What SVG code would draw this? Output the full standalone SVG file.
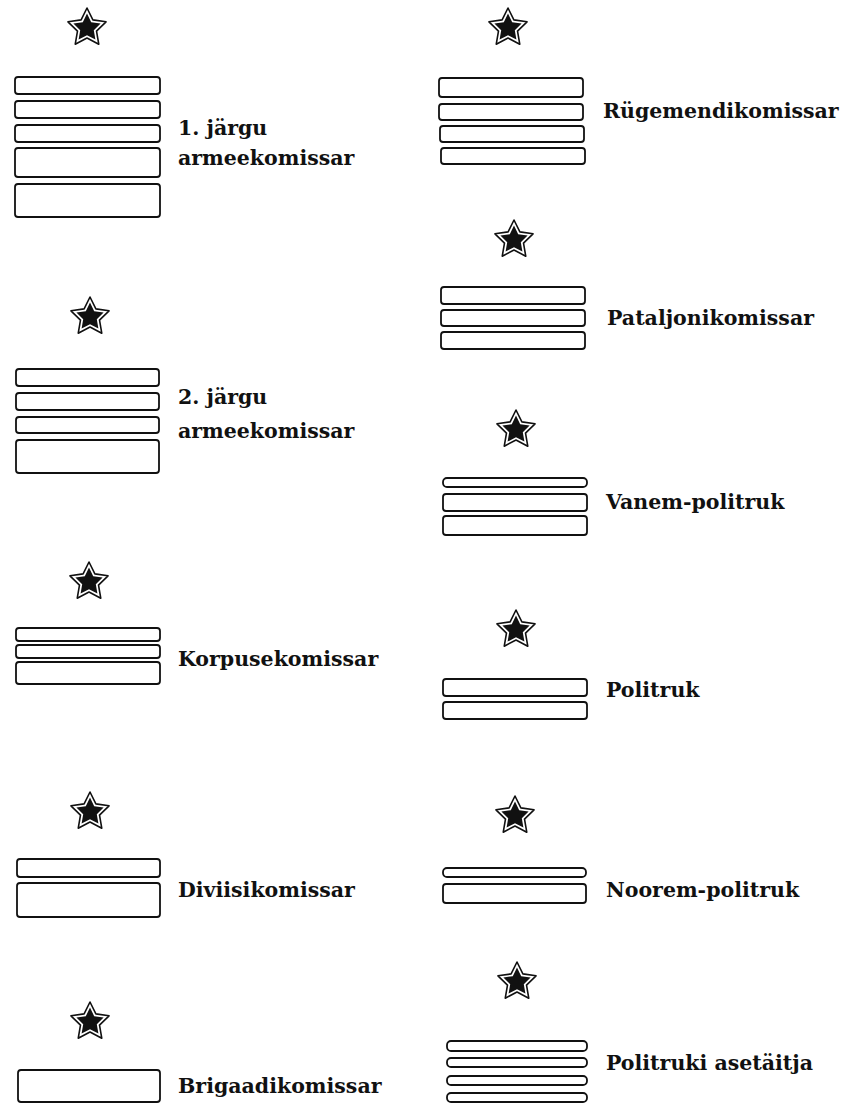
<svg xmlns="http://www.w3.org/2000/svg" width="850" height="1103" viewBox="0 0 850 1103">
<style>
.bar{fill:#fff;stroke:#111;stroke-width:1.8}
.lbl{font-family:"DejaVu Serif","Liberation Serif",serif;font-weight:bold;font-size:20.5px;fill:#111}
</style>
<defs>
<g id="star">
<polygon points="0,-20 5.88,-8.09 19.02,-6.18 9.51,3.09 11.76,16.18 0,10 -11.76,16.18 -9.51,3.09 -19.02,-6.18 -5.88,-8.09" fill="#fff" stroke="#111" stroke-width="1.6" stroke-linejoin="round"/>
<polygon points="0,-14.5 4.2,-5.8 13.6,-4.5 6.8,2.2 8.4,11.6 0,7.2 -8.4,11.6 -6.8,2.2 -13.6,-4.5 -4.2,-5.8" fill="#111"/>
</g>
</defs>
<rect width="850" height="1103" fill="#fff"/>

<g id="armeekomissar1">
<use href="#star" x="87" y="28"/>
<rect class="bar" x="15" y="77" width="145" height="17" rx="3"/>
<rect class="bar" x="15" y="101" width="145" height="17" rx="3"/>
<rect class="bar" x="15" y="125" width="145" height="17" rx="3"/>
<rect class="bar" x="15" y="148" width="145" height="29" rx="3"/>
<rect class="bar" x="15" y="184" width="145" height="33" rx="3"/>
<text class="lbl" x="178" y="135">1. järgu</text>
<text class="lbl" x="178" y="165">armeekomissar</text>
</g>

<g id="armeekomissar2">
<use href="#star" x="90" y="317"/>
<rect class="bar" x="16" y="369" width="143" height="17" rx="3"/>
<rect class="bar" x="16" y="393" width="143" height="17" rx="3"/>
<rect class="bar" x="16" y="417" width="143" height="16" rx="3"/>
<rect class="bar" x="16" y="440" width="143" height="33" rx="3"/>
<text class="lbl" x="178" y="404">2. järgu</text>
<text class="lbl" x="178" y="438">armeekomissar</text>
</g>

<g id="korpusekomissar">
<use href="#star" x="89" y="582"/>
<rect class="bar" x="16" y="628" width="144" height="13" rx="3"/>
<rect class="bar" x="16" y="645" width="144" height="13" rx="3"/>
<rect class="bar" x="16" y="662" width="144" height="22" rx="3"/>
<text class="lbl" x="178" y="666">Korpusekomissar</text>
</g>

<g id="diviisikomissar">
<use href="#star" x="90" y="812"/>
<rect class="bar" x="17" y="859" width="143" height="18" rx="3"/>
<rect class="bar" x="17" y="883" width="143" height="34" rx="3"/>
<text class="lbl" x="178" y="897">Diviisikomissar</text>
</g>

<g id="brigaadikomissar">
<use href="#star" x="90" y="1022"/>
<rect class="bar" x="18" y="1070" width="142" height="32" rx="3"/>
<text class="lbl" x="178" y="1093">Brigaadikomissar</text>
</g>

<g id="rugemendikomissar">
<use href="#star" x="508" y="28"/>
<rect class="bar" x="439" y="78" width="144" height="19" rx="3"/>
<rect class="bar" x="439" y="104" width="144" height="16" rx="3"/>
<rect class="bar" x="440" y="126" width="144" height="16" rx="3"/>
<rect class="bar" x="441" y="148" width="144" height="16" rx="3"/>
<text class="lbl" x="603" y="118">Rügemendikomissar</text>
</g>

<g id="pataljonikomissar">
<use href="#star" x="514" y="240"/>
<rect class="bar" x="441" y="287" width="144" height="17" rx="3"/>
<rect class="bar" x="441" y="310" width="144" height="16" rx="3"/>
<rect class="bar" x="441" y="332" width="144" height="17" rx="3"/>
<text class="lbl" x="607" y="325">Pataljonikomissar</text>
</g>

<g id="vanem-politruk">
<use href="#star" x="516" y="430"/>
<rect class="bar" x="443" y="478" width="144" height="9" rx="4"/>
<rect class="bar" x="443" y="494" width="144" height="17" rx="3"/>
<rect class="bar" x="443" y="516" width="144" height="19" rx="3"/>
<text class="lbl" x="606" y="509">Vanem-politruk</text>
</g>

<g id="politruk">
<use href="#star" x="516" y="630"/>
<rect class="bar" x="443" y="679" width="144" height="17" rx="3"/>
<rect class="bar" x="443" y="702" width="144" height="17" rx="3"/>
<text class="lbl" x="606" y="697">Politruk</text>
</g>

<g id="noorem-politruk">
<use href="#star" x="515" y="816"/>
<rect class="bar" x="443" y="868" width="143" height="9" rx="4"/>
<rect class="bar" x="443" y="884" width="143" height="19" rx="3"/>
<text class="lbl" x="606" y="897">Noorem-politruk</text>
</g>

<g id="politruki-asetaitja">
<use href="#star" x="517" y="982"/>
<rect class="bar" x="447" y="1041" width="140" height="10" rx="4"/>
<rect class="bar" x="447" y="1058" width="140" height="9" rx="4"/>
<rect class="bar" x="447" y="1076" width="140" height="9" rx="4"/>
<rect class="bar" x="447" y="1093" width="140" height="9" rx="4"/>
<text class="lbl" x="606" y="1070">Politruki asetäitja</text>
</g>

<g id="connectors"/>
</svg>
